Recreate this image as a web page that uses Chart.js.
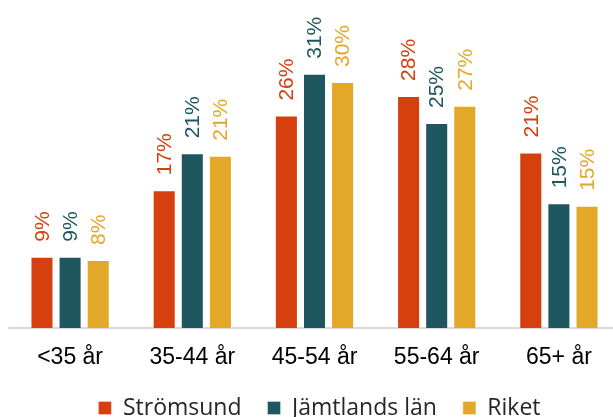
<!DOCTYPE html>
<html>
<head>
<meta charset="utf-8">
<script src="https://cdn.jsdelivr.net/npm/chart.js@4.4.1/dist/chart.umd.min.js"></script>
<style>
  html, body { margin: 0; padding: 0; background: #fff; overflow: hidden; }
  #wrap { width: 620px; height: 417px; position: relative; }
</style>
</head>
<body>
<div id="wrap"><canvas id="ageChart"></canvas></div>
<script>
// Age groups and share per area (%)
const categories = ["<35 år", "35-44 år", "45-54 år", "55-64 år", "65+ år"];
const seriesNames = ["Strömsund", "Jämtlands län", "Riket"];
const stromsund = [8.7, 16.8, 25.9, 28.3, 21.4];
const jamtland = [8.7, 21.3, 31.0, 25.0, 15.2];
const riket = [8.3, 21.0, 30.0, 27.1, 14.9];
const colors = ["#D6400F", "#1F5760", "#E4A829"];

// Rotated value labels above each bar
const valueLabels = {
    id: "valueLabels",
    afterDatasetsDraw(chart) {
        const ctx = chart.ctx;
        chart.data.datasets.forEach((ds, i) => {
            const meta = chart.getDatasetMeta(i);
            meta.data.forEach((bar, j) => {
                ctx.save();
                ctx.translate(bar.x, bar.y - 15);
                ctx.rotate(-Math.PI / 2);
                ctx.font = "21px 'Liberation Sans', Arial, sans-serif";
                ctx.fillStyle = ds.backgroundColor;
                ctx.textAlign = "left";
                ctx.textBaseline = "middle";
                ctx.fillText(Math.round(ds.data[j]) + "%", 0, 1);
                ctx.restore();
            });
        });
    }
};

// nudge the legend a little to the right, like the original
const legendShift = {
    id: "legendShift",
    afterLayout(chart) {
        chart.legend.left += 5;
        chart.legend.right += 5;
    }
};

const datasets = [stromsund, jamtland, riket].map((values, i) => ({
    label: seriesNames[i],
    data: values,
    backgroundColor: colors[i],
    borderColor: "rgba(255,255,255,0.35)",
    borderWidth: 1,
    categoryPercentage: 0.69,
    barPercentage: 0.82
}));

const ctx = document.getElementById("ageChart").getContext("2d");
new Chart(ctx, {
    type: "bar",
    data: { labels: categories, datasets },
    plugins: [valueLabels, legendShift],
    options: {
        responsive: true,
        maintainAspectRatio: false,
        animation: false,
        layout: { padding: { left: 9, right: 0, top: 0, bottom: -12.5 } },
        plugins: {
            tooltip: { enabled: false },
            legend: {
                position: "bottom",
                fullSize: false,
                labels: {
                    boxWidth: 13,
                    boxHeight: 13,
                    padding: 26,
                    color: "#262626",
                    font: { family: "'Open Sans', sans-serif", size: 23 }
                }
            }
        },
        scales: {
            x: {
                grid: { display: false, drawTicks: false },
                border: { display: true, color: "#d9d9d9", width: 2 },
                ticks: {
                    padding: 16,
                    color: "#000",
                    font: { family: "'Liberation Sans', Arial, sans-serif", size: 23 }
                },
                afterFit: (scale) => { scale.height = 42.5; }
            },
            y: {
                display: false,
                min: 0,
                max: 40
            }
        }
    }
});
</script>
</body>
</html>
